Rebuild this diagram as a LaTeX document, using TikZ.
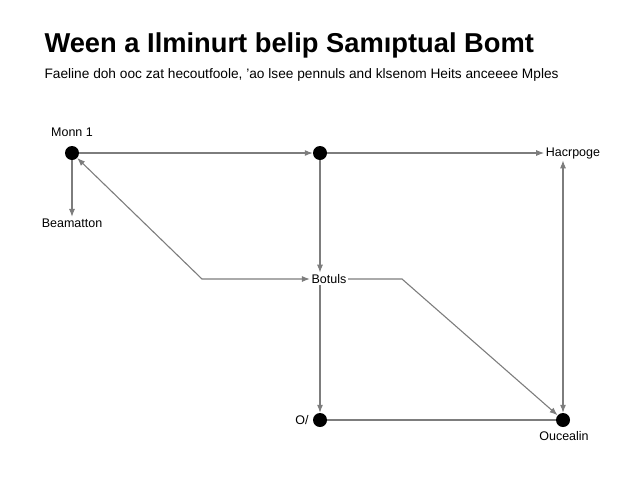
\documentclass[tikz,border=0pt]{standalone}
\usepackage{fontspec}
\setmainfont{Liberation Sans}
\usetikzlibrary{arrows.meta}
\definecolor{lncol}{RGB}{125,125,125}

\begin{document}
\begin{tikzpicture}[x=1pt,y=-1pt,->,>={Latex[length=8pt,width=6pt]},
   every edge/.style={draw=lncol,line width=1.1pt},
   conn/.style={draw=lncol,line width=1.1pt},
   dot/.style={circle,fill=black,minimum size=14pt,inner sep=0pt},
   lbl/.style={font=\fontsize{12.5}{14}\selectfont,inner sep=1.5pt}]
   \useasboundingbox (0,0) rectangle (640,480);
   \node[anchor=base west,font=\bfseries\fontsize{27.3}{32}\selectfont] (t0) at (41,52) {Ween a Ilminurt belip Samıptual Bomt};
   \node[anchor=base west,font=\fontsize{13.7}{16}\selectfont] (t1) at (41,78) {Faeline doh ooc zat hecoutfoole, 'ao lsee pennuls and klsenom Heits anceeee Mples};

   \node[dot] (a1) at (72,153) {};
   \node[dot] (a2) at (320,153) {};
   \node[dot] (a3) at (320,420) {};
   \node[dot] (a4) at (563,420) {};
   \node[lbl] (b1) at (72,132) {Monn 1};
   \node[lbl] (b2) at (72,223) {Beamatton};
   \node[lbl] (b3) at (329,279) {Botuls};
   \node[lbl] (b4) at (573,153) {Hacrpoge};
   \node[lbl] (b5) at (302,420) {O/};
   \node[lbl] (b6) at (564,436) {Oucealin};
   \coordinate (c1) at (202,279);
   \coordinate (c2) at (402,279);

   \path (a1) edge (a2);
   \path (a2) edge (b4);
   \path (a1) edge (b2);
   \path (a2) edge (a2 |- b3.north);
   \path (a2 |- b3.south) edge (a3);
   \path (a3) edge[-] (a4);
   \path (b4.south -| a4) edge[<->] (a4);
   \draw[conn,<->] (a1) -- (c1) -- (b3);
   \draw[conn] (b3) -- (c2) -- (a4);
\end{tikzpicture}
\end{document}
